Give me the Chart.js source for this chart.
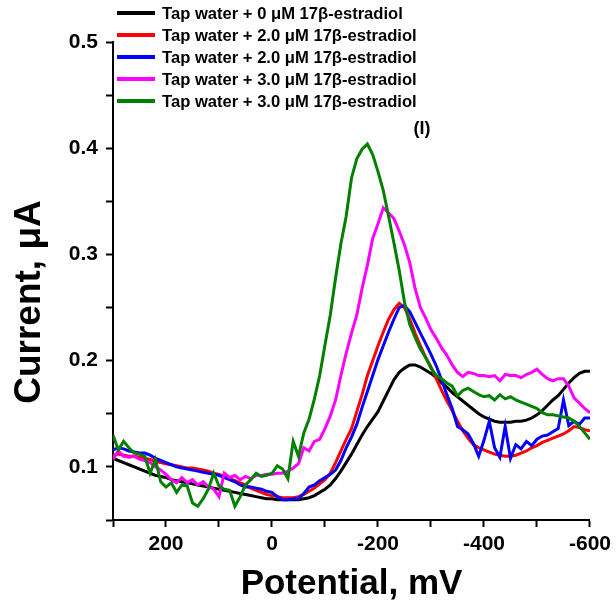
<!DOCTYPE html>
<html>
<head>
<meta charset="utf-8">
<script src="https://cdn.jsdelivr.net/npm/chart.js@4.4.1/dist/chart.umd.min.js"></script>
<style>
  html, body { margin: 0; padding: 0; background: #fff; }
  #wrap { width: 616px; height: 602px; }
</style>
</head>
<body>
<div id="wrap"><canvas id="chart" width="616" height="602"></canvas></div>
<script>
// potential (mV), shared by every curve
const potential = [300, 290, 280, 270, 260, 250, 240, 230, 220, 210, 200, 190, 180, 170, 160, 150, 140, 130, 120, 110,
  100, 90, 80, 70, 60, 50, 40, 30, 20, 10, 0, -10, -20, -30, -40, -50, -60, -70, -80, -90,
  -100, -110, -120, -130, -140, -150, -160, -170, -180, -190, -200, -210, -220, -230, -240, -250, -260, -270, -280, -290,
  -300, -310, -320, -330, -340, -350, -360, -370, -380, -390, -400, -410, -420, -430, -440, -450, -460, -470, -480, -490,
  -500, -510, -520, -530, -540, -550, -560, -570, -580, -590, -600];

const labels = ['Tap water + 0 \u03bcM 17\u03b2-estradiol', 'Tap water + 2.0 \u03bcM 17\u03b2-estradiol',
  'Tap water + 2.0 \u03bcM 17\u03b2-estradiol', 'Tap water + 3.0 \u03bcM 17\u03b2-estradiol',
  'Tap water + 3.0 \u03bcM 17\u03b2-estradiol'];

const black0 = [0.108, 0.106, 0.104, 0.102, 0.100, 0.098, 0.096, 0.094, 0.092, 0.091, 0.090, 0.088, 0.087, 0.086, 0.085, 0.084, 0.083, 0.082, 0.081, 0.080,
  0.079, 0.078, 0.077, 0.076, 0.075, 0.074, 0.073, 0.072, 0.071, 0.070, 0.070, 0.069, 0.069, 0.069, 0.069, 0.069, 0.070, 0.071, 0.073, 0.076,
  0.079, 0.083, 0.089, 0.096, 0.104, 0.112, 0.121, 0.130, 0.138, 0.145, 0.152, 0.162, 0.172, 0.182, 0.189, 0.193, 0.196, 0.196, 0.194, 0.191,
  0.188, 0.184, 0.179, 0.175, 0.170, 0.166, 0.162, 0.158, 0.154, 0.150, 0.147, 0.145, 0.143, 0.142, 0.142, 0.142, 0.143, 0.143, 0.144, 0.146,
  0.149, 0.153, 0.158, 0.163, 0.167, 0.173, 0.179, 0.184, 0.188, 0.190, 0.190];

const red20 = [0.111, 0.112, 0.111, 0.110, 0.110, 0.109, 0.108, 0.107, 0.105, 0.104, 0.103, 0.102, 0.101, 0.100, 0.099, 0.099, 0.098, 0.097, 0.096, 0.094,
  0.093, 0.091, 0.089, 0.087, 0.085, 0.083, 0.080, 0.078, 0.076, 0.074, 0.073, 0.072, 0.071, 0.071, 0.071, 0.072, 0.074, 0.077, 0.080, 0.084,
  0.088, 0.094, 0.104, 0.115, 0.126, 0.136, 0.152, 0.168, 0.186, 0.200, 0.214, 0.227, 0.239, 0.248, 0.254, 0.250, 0.239, 0.226, 0.214, 0.203,
  0.194, 0.183, 0.172, 0.162, 0.153, 0.143, 0.134, 0.127, 0.121, 0.118, 0.116, 0.114, 0.112, 0.111, 0.110, 0.110, 0.111, 0.113, 0.115, 0.118,
  0.120, 0.123, 0.125, 0.127, 0.129, 0.131, 0.134, 0.138, 0.137, 0.135, 0.134];

const blue20 = [0.116, 0.118, 0.117, 0.115, 0.114, 0.113, 0.113, 0.111, 0.108, 0.106, 0.104, 0.102, 0.100, 0.099, 0.098, 0.097, 0.096, 0.095, 0.094, 0.093,
  0.092, 0.090, 0.088, 0.086, 0.083, 0.081, 0.081, 0.080, 0.079, 0.077, 0.076, 0.072, 0.069, 0.069, 0.070, 0.070, 0.075, 0.081, 0.083, 0.087,
  0.090, 0.093, 0.097, 0.106, 0.118, 0.128, 0.140, 0.156, 0.171, 0.186, 0.201, 0.214, 0.227, 0.239, 0.250, 0.252, 0.246, 0.236, 0.226, 0.216,
  0.206, 0.195, 0.182, 0.168, 0.155, 0.138, 0.135, 0.131, 0.122, 0.110, 0.125, 0.143, 0.118, 0.109, 0.138, 0.108, 0.121, 0.117, 0.124, 0.120,
  0.126, 0.129, 0.130, 0.133, 0.136, 0.163, 0.139, 0.143, 0.140, 0.146, 0.146];

const magenta30 = [0.107, 0.115, 0.110, 0.109, 0.110, 0.107, 0.106, 0.104, 0.100, 0.097, 0.093, 0.088, 0.085, 0.090, 0.085, 0.088, 0.083, 0.086, 0.081, 0.079,
  0.072, 0.094, 0.090, 0.092, 0.088, 0.091, 0.089, 0.092, 0.092, 0.093, 0.093, 0.094, 0.094, 0.096, 0.099, 0.103, 0.118, 0.115, 0.124, 0.126,
  0.136, 0.148, 0.163, 0.186, 0.207, 0.226, 0.243, 0.268, 0.290, 0.315, 0.329, 0.344, 0.339, 0.334, 0.322, 0.309, 0.292, 0.268, 0.250, 0.240,
  0.229, 0.221, 0.212, 0.205, 0.196, 0.189, 0.185, 0.189, 0.188, 0.186, 0.186, 0.185, 0.186, 0.181, 0.187, 0.186, 0.186, 0.184, 0.187, 0.189,
  0.192, 0.187, 0.183, 0.181, 0.183, 0.183, 0.176, 0.165, 0.160, 0.155, 0.151];

const green30 = [0.130, 0.116, 0.124, 0.118, 0.113, 0.112, 0.110, 0.094, 0.107, 0.086, 0.081, 0.085, 0.076, 0.083, 0.082, 0.066, 0.063, 0.070, 0.079, 0.094,
  0.082, 0.079, 0.078, 0.063, 0.072, 0.083, 0.088, 0.094, 0.091, 0.092, 0.094, 0.101, 0.098, 0.089, 0.124, 0.110, 0.132, 0.145, 0.164, 0.186,
  0.215, 0.243, 0.278, 0.310, 0.336, 0.372, 0.390, 0.399, 0.404, 0.394, 0.378, 0.360, 0.336, 0.311, 0.285, 0.255, 0.234, 0.222, 0.211, 0.203,
  0.193, 0.186, 0.183, 0.179, 0.176, 0.167, 0.172, 0.174, 0.171, 0.168, 0.166, 0.167, 0.163, 0.168, 0.164, 0.166, 0.163, 0.161, 0.159, 0.157,
  0.155, 0.151, 0.149, 0.149, 0.148, 0.147, 0.146, 0.143, 0.138, 0.132, 0.126];

const colors = ['#000000', '#ff0000', '#0000ff', '#ff00ff', '#008000'];
const series = [black0, red20, blue20, magenta30, green30];

const xTicks = [200, 0, -200, -400, -600];
const yTicks = [0.1, 0.2, 0.3, 0.4, 0.5];

const FONT = "'Liberation Sans', Arial, sans-serif";

function pts(ys) {
  return ys.map((y, i) => ({x: potential[i], y: y}));
}

// legend sits inside the plot, so draw it ourselves; y title sits a bit low in the original
const overlay = {
  id: 'overlay',
  afterDraw(chart) {
    const c = chart.ctx;
    c.save();
    c.font = 'bold 16.6px ' + FONT;
    c.textBaseline = 'middle';
    labels.forEach((lab, i) => {
      const y = 13 + i * 22;
      c.strokeStyle = colors[i];
      c.lineWidth = 4;
      c.beginPath();
      c.moveTo(117, y);
      c.lineTo(155, y);
      c.stroke();
      c.fillStyle = '#000';
      c.fillText(lab, 162, y + 1);
    });
    c.font = 'bold 18px ' + FONT;
    c.textAlign = 'center';
    c.fillText('(I)', 422, 129);

    c.translate(30, 302);
    c.rotate(-Math.PI / 2);
    c.font = 'bold 37px ' + FONT;
    c.fillText('Current, \u03bcA', 0, 0);
    c.restore();
  }
};

new Chart(document.getElementById('chart'), {
  type: 'line',
  data: {
    datasets: series.map((s, i) => ({
      label: labels[i],
      data: pts(s),
      borderColor: colors[i],
      borderWidth: 3,
      pointRadius: 0,
      tension: 0,
      fill: false,
      order: 4 - i
    }))
  },
  options: {
    responsive: false,
    animation: false,
    events: [],
    layout: {padding: {top: 42, right: 26, left: 0, bottom: 0}},
    plugins: {legend: {display: false}, tooltip: {enabled: false}},
    scales: {
      x: {
        type: 'linear',
        reverse: true,
        min: -600,
        max: 300,
        afterFit: (s) => { s.height = 82; },
        afterBuildTicks: (s) => { s.ticks = [300, 200, 100, 0, -100, -200, -300, -400, -500, -600].map(v => ({value: v})); },
        border: {display: true, color: '#000', width: 2},
        grid: {drawOnChartArea: false, drawTicks: true, tickLength: 7, tickColor: '#000', tickWidth: 2},
        ticks: {
          color: '#000',
          padding: 5,
          maxRotation: 0,
          autoSkip: false,
          font: {family: FONT, size: 21, weight: 'bold'},
          callback: (v) => xTicks.includes(v) ? String(v) : ''
        },
        title: {
          display: true,
          text: 'Potential, mV',
          color: '#000',
          font: {family: FONT, size: 35, weight: 'bold', lineHeight: 1},
          padding: {top: 0, bottom: 0}
        }
      },
      y: {
        min: 0.05,
        max: 0.5,
        afterFit: (s) => { s.width = 113; },
        afterBuildTicks: (s) => { s.ticks = [0.05, 0.1, 0.15, 0.2, 0.25, 0.3, 0.35, 0.4, 0.45, 0.5].map(v => ({value: v})); },
        border: {display: true, color: '#000', width: 2},
        grid: {drawOnChartArea: false, drawTicks: true, tickLength: 7, tickColor: '#000', tickWidth: 2},
        ticks: {
          color: '#000',
          padding: 8,
          autoSkip: false,
          font: {family: FONT, size: 21, weight: 'bold'},
          callback: (v) => {
            const hit = yTicks.find(t => Math.abs(t - v) < 1e-6);
            return hit !== undefined ? hit.toFixed(1) : '';
          }
        },
        title: {display: false}
      }
    }
  },
  plugins: [overlay]
});
</script>
</body>
</html>
